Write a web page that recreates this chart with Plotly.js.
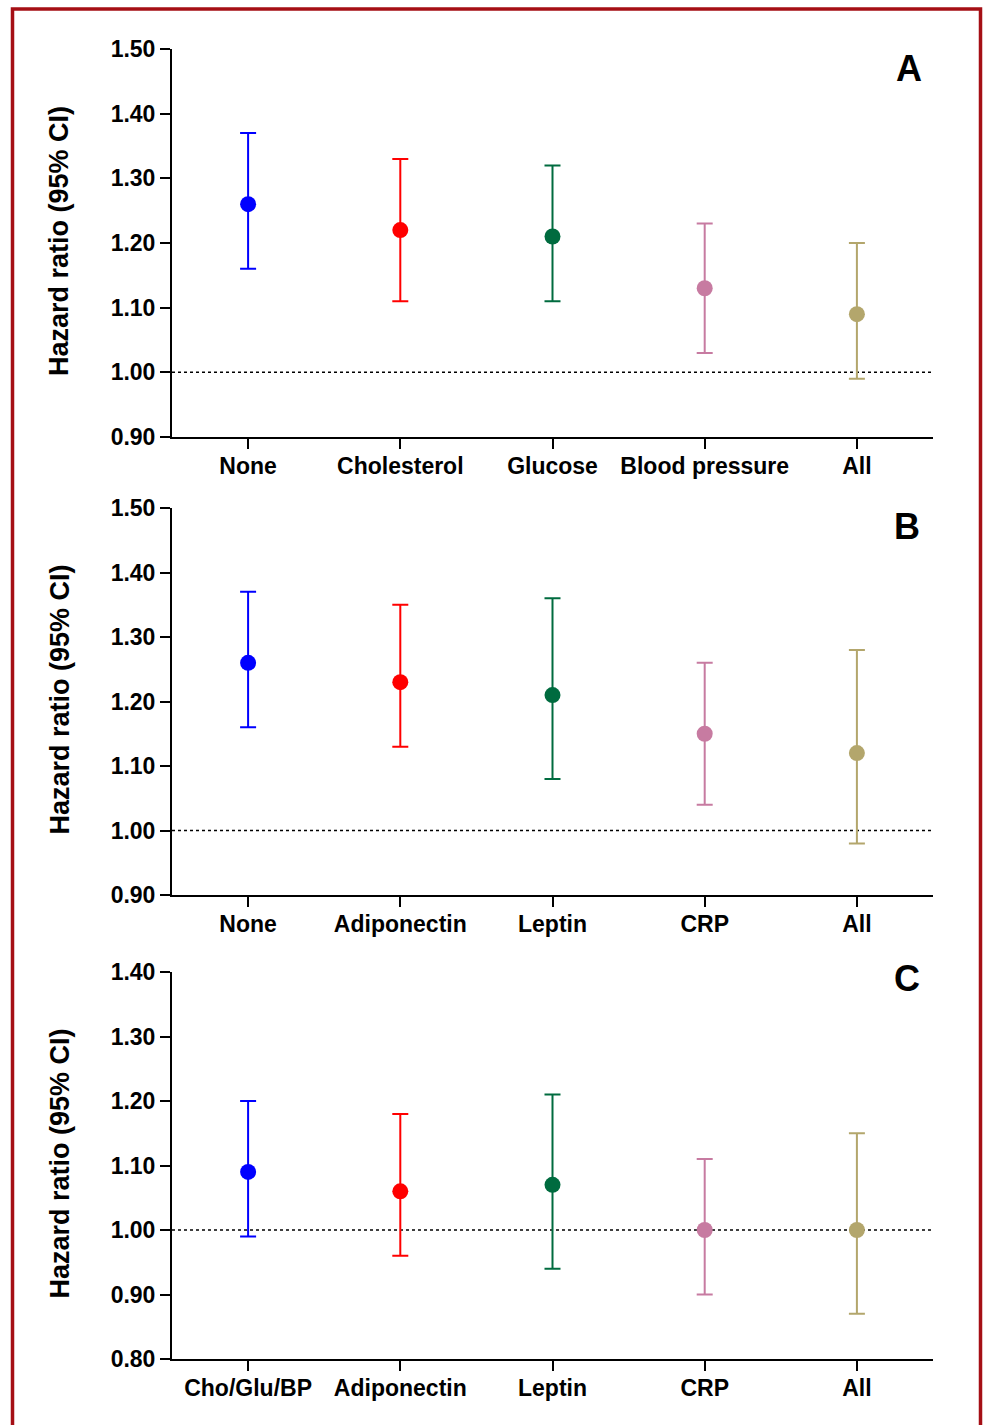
<!DOCTYPE html>
<html>
<head>
<meta charset="utf-8">
<script src="https://cdn.plot.ly/plotly-3.0.1.min.js"></script>
<style>html,body{margin:0;padding:0;background:#fff;}#chart{width:983px;height:1425px;}</style>
</head>
<body>
<div id="chart"></div>
<script>
// Panel A
const catsA = ["None", "Cholesterol", "Glucose", "Blood pressure", "All"];
const hrA   = [1.26, 1.22, 1.21, 1.13, 1.09];
const lowA  = [1.16, 1.11, 1.11, 1.03, 0.99];
const highA = [1.37, 1.33, 1.32, 1.23, 1.20];
// Panel B
const catsB = ["None", "Adiponectin", "Leptin", "CRP", "All"];
const hrB   = [1.26, 1.23, 1.21, 1.15, 1.12];
const lowB  = [1.16, 1.13, 1.08, 1.04, 0.98];
const highB = [1.37, 1.35, 1.36, 1.26, 1.28];
// Panel C
const catsC = ["Cho/Glu/BP", "Adiponectin", "Leptin", "CRP", "All"];
const hrC   = [1.09, 1.06, 1.07, 1.00, 1.00];
const lowC  = [0.99, 0.96, 0.94, 0.90, 0.87];
const highC = [1.20, 1.18, 1.21, 1.11, 1.15];
const yTicksAB = [0.90, 1.00, 1.10, 1.20, 1.30, 1.40, 1.50];
const yTicksC  = [0.80, 0.90, 1.00, 1.10, 1.20, 1.30, 1.40];
const panelLabels = ["A", "B", "C"];
const refLine = 1.00;

const colors = ["#0000ff", "#ff0000", "#006b3f", "#c77ba1", "#b3a66c"];
const W = 983, H = 1425;
const FONT = "Arial, 'Liberation Sans', Helvetica, sans-serif";

const panels = [
  {cats: catsA, hr: hrA, lo: lowA, hi: highA, ticks: yTicksAB, top: 49, bot: 437, lab: panelLabels[0], labPos: [909, 68]},
  {cats: catsB, hr: hrB, lo: lowB, hi: highB, ticks: yTicksAB, top: 508, bot: 895, lab: panelLabels[1], labPos: [907, 527]},
  {cats: catsC, hr: hrC, lo: lowC, hi: highC, ticks: yTicksC, top: 972, bot: 1359, lab: panelLabels[2], labPos: [907, 979]}
];

const xL = 172, xR = 933;
const data = [];
const layout = {
  width: W, height: H,
  margin: {l: 0, r: 0, t: 0, b: 0},
  paper_bgcolor: "#fff", plot_bgcolor: "#fff",
  showlegend: false,
  font: {family: FONT, color: "#000"},
  shapes: [], annotations: []
};

panels.forEach((p, i) => {
  const sfx = i === 0 ? "" : String(i + 1);
  const xa = "x" + sfx, ya = "y" + sfx;
  p.cats.forEach((c, j) => {
    data.push({
      type: "scatter", mode: "markers",
      x: [c], y: [p.hr[j]],
      xaxis: xa, yaxis: ya,
      marker: {color: colors[j], size: 16},
      error_y: {type: "data", symmetric: false,
        array: [p.hi[j] - p.hr[j]], arrayminus: [p.hr[j] - p.lo[j]],
        color: colors[j], thickness: 2, width: 8},
      hoverinfo: "x+y"
    });
  });
  const yd = [(H - p.bot) / H, (H - p.top) / H];
  layout["xaxis" + sfx] = {
    domain: [xL / W, xR / W], anchor: ya,
    type: "category", categoryorder: "array", categoryarray: p.cats,
    range: [-0.5, 4.5], fixedrange: true,
    showline: true, linecolor: "#000", linewidth: 2,
    ticks: "outside", ticklen: 10, tickwidth: 2, tickcolor: "#000",
    ticklabelstandoff: -3,
    showgrid: false, zeroline: false,
    tickfont: {family: FONT, size: 23, weight: "bold", color: "#000"}
  };
  layout["yaxis" + sfx] = {
    domain: yd, anchor: xa,
    range: [p.ticks[0], p.ticks[p.ticks.length - 1]], fixedrange: true,
    tickvals: p.ticks, ticktext: p.ticks.map(v => v.toFixed(2)),
    showline: true, linecolor: "#000", linewidth: 2,
    ticks: "outside", ticklen: 10, tickwidth: 2, tickcolor: "#000",
    showgrid: false, zeroline: false,
    tickfont: {family: FONT, size: 23, weight: "bold", color: "#000"}
  };
  layout.shapes.push({
    type: "line", xref: xa, yref: ya, x0: -0.5, x1: 4.5, y0: refLine, y1: refLine,
    line: {color: "#000", width: 1.5, dash: "dot"}, layer: "below"
  });
  layout.annotations.push({
    xref: "paper", yref: "paper", x: 59 / W, y: (H - (p.top + p.bot) / 2 + 2) / H,
    xanchor: "center", yanchor: "middle", textangle: -90, showarrow: false,
    text: "Hazard ratio (95% CI)",
    font: {family: FONT, size: 27, weight: "bold", color: "#000"}
  });
  layout.annotations.push({
    xref: "paper", yref: "paper", x: p.labPos[0] / W, y: (H - p.labPos[1]) / H,
    xanchor: "center", yanchor: "middle", showarrow: false,
    text: p.lab,
    font: {family: FONT, size: 36, weight: "bold", color: "#000"}
  });
});

// outer frame
layout.shapes.push({
  type: "rect", xref: "paper", yref: "paper",
  x0: 12.5 / W, x1: 980.5 / W, y0: -0.01, y1: (H - 9) / H,
  line: {color: "#a50f15", width: 3.5}, fillcolor: "rgba(0,0,0,0)"
});

Plotly.newPlot("chart", data, layout, {displayModeBar: false, staticPlot: true});
</script>
</body>
</html>
